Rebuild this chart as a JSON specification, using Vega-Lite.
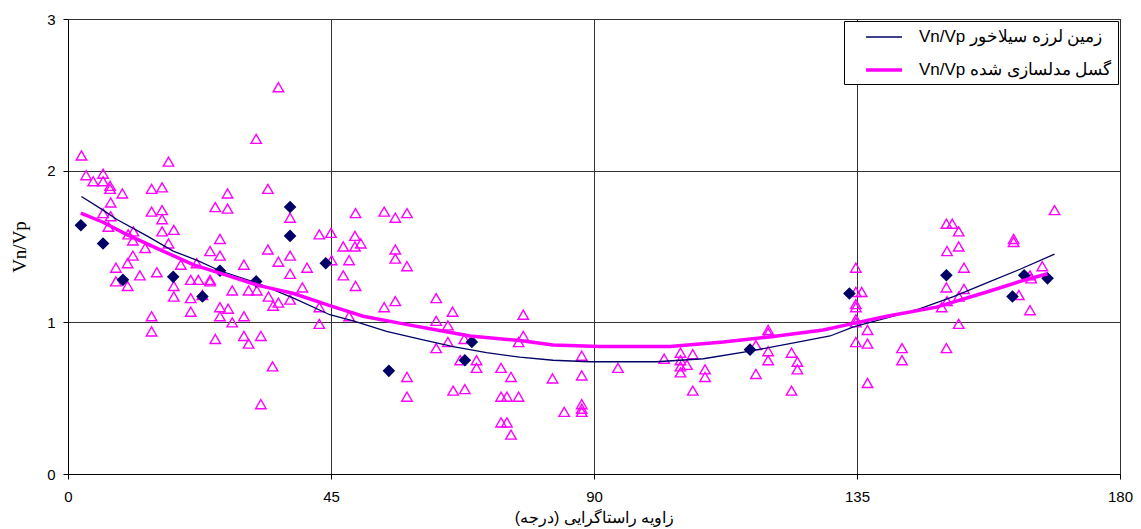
{
  "$schema": "https://vega.github.io/schema/vega-lite/v6.json",
  "width": 1052,
  "height": 455,
  "autosize": {"type": "none"},
  "padding": {"left": 68, "top": 19, "right": 21, "bottom": 55},
  "background": "white",
  "config": {
    "view": {"stroke": "#000", "strokeWidth": 1},
    "font": "Liberation Sans"
  },
  "datasets": {
    "tri": [
      {"a":2.3,"v":2.10},{"a":3.1,"v":1.97},{"a":4.3,"v":1.93},{"a":6.0,"v":1.98},{"a":6.0,"v":1.93},{"a":7.2,"v":1.90},{"a":7.2,"v":1.88},{"a":9.3,"v":1.85},{"a":7.3,"v":1.79},{"a":6.0,"v":1.72},{"a":7.3,"v":1.70},{"a":6.9,"v":1.63},{"a":10.3,"v":1.58},{"a":11.2,"v":1.60},{"a":11.1,"v":1.54},{"a":13.2,"v":1.49},{"a":11.1,"v":1.44},{"a":10.2,"v":1.39},{"a":8.2,"v":1.36},{"a":8.2,"v":1.27},{"a":10.2,"v":1.24},{"a":12.3,"v":1.31},{"a":14.3,"v":1.88},{"a":16.1,"v":1.89},{"a":17.2,"v":2.06},{"a":14.3,"v":1.73},{"a":16.1,"v":1.74},{"a":16.1,"v":1.68},{"a":16.1,"v":1.60},{"a":18.1,"v":1.61},{"a":17.2,"v":1.52},{"a":19.3,"v":1.38},{"a":15.2,"v":1.33},{"a":14.3,"v":1.04},{"a":14.3,"v":0.94},{"a":18.1,"v":1.24},{"a":18.1,"v":1.17},{"a":21.0,"v":1.28},{"a":22.3,"v":1.28},{"a":22.0,"v":1.39},{"a":21.0,"v":1.16},{"a":21.0,"v":1.07},{"a":23.0,"v":1.18},{"a":24.3,"v":1.47},{"a":26.0,"v":1.55},{"a":26.0,"v":1.44},{"a":25.2,"v":1.76},{"a":27.3,"v":1.75},{"a":27.3,"v":1.85},{"a":24.3,"v":1.28},{"a":24.3,"v":1.27},{"a":26.0,"v":1.10},{"a":26.0,"v":1.04},{"a":27.4,"v":1.09},{"a":28.1,"v":1.21},{"a":28.1,"v":1.00},{"a":25.2,"v":0.89},{"a":30.1,"v":1.38},{"a":30.1,"v":1.04},{"a":30.9,"v":1.21},{"a":30.1,"v":0.91},{"a":30.9,"v":0.86},{"a":32.3,"v":1.21},{"a":33.0,"v":0.91},{"a":32.2,"v":2.21},{"a":34.2,"v":1.88},{"a":34.2,"v":1.48},{"a":36.0,"v":1.40},{"a":34.3,"v":1.17},{"a":35.1,"v":1.11},{"a":36.0,"v":1.13},{"a":35.0,"v":0.71},{"a":33.0,"v":0.46},{"a":38.0,"v":1.69},{"a":38.0,"v":1.44},{"a":38.0,"v":1.32},{"a":38.0,"v":1.15},{"a":40.1,"v":1.23},{"a":40.9,"v":1.36},{"a":43.0,"v":1.58},{"a":45.0,"v":1.59},{"a":43.0,"v":1.10},{"a":43.0,"v":0.99},{"a":36.0,"v":2.55},{"a":45.1,"v":1.41},
      {"a":49.2,"v":1.72},{"a":54.1,"v":1.73},{"a":56.0,"v":1.69},{"a":58.0,"v":1.72},{"a":49.1,"v":1.57},{"a":47.1,"v":1.50},{"a":49.1,"v":1.50},{"a":50.1,"v":1.52},{"a":48.1,"v":1.41},{"a":47.1,"v":1.31},{"a":49.2,"v":1.24},{"a":56.0,"v":1.48},{"a":56.0,"v":1.42},{"a":58.0,"v":1.37},{"a":54.1,"v":1.10},{"a":56.0,"v":1.14},{"a":48.1,"v":1.04},{"a":63.0,"v":1.16},{"a":63.0,"v":1.01},{"a":65.8,"v":1.07},{"a":65.0,"v":0.98},{"a":63.0,"v":0.83},{"a":65.0,"v":0.87},{"a":67.8,"v":0.89},{"a":67.1,"v":0.75},{"a":69.9,"v":0.75},{"a":69.9,"v":0.70},{"a":58.0,"v":0.64},{"a":58.0,"v":0.51},{"a":65.9,"v":0.55},{"a":67.9,"v":0.56},{"a":74.1,"v":0.70},{"a":75.8,"v":0.64},{"a":74.1,"v":0.51},{"a":75.1,"v":0.51},{"a":77.1,"v":0.51},{"a":74.1,"v":0.34},{"a":75.1,"v":0.34},{"a":75.8,"v":0.26},{"a":77.9,"v":1.05},{"a":77.9,"v":0.91},{"a":77.1,"v":0.87},{"a":82.9,"v":0.63},{"a":84.9,"v":0.41},{"a":87.9,"v":0.78},{"a":87.9,"v":0.65},{"a":87.9,"v":0.46},{"a":87.9,"v":0.43},{"a":87.9,"v":0.41},
      {"a":94.1,"v":0.70},{"a":102.0,"v":0.76},{"a":104.8,"v":0.80},{"a":104.8,"v":0.75},{"a":104.8,"v":0.71},{"a":104.8,"v":0.67},{"a":105.9,"v":0.72},{"a":106.9,"v":0.79},{"a":106.9,"v":0.55},{"a":109.0,"v":0.69},{"a":109.0,"v":0.64},{"a":117.7,"v":0.85},{"a":117.7,"v":0.66},{"a":119.8,"v":0.95},{"a":119.8,"v":0.93},{"a":119.8,"v":0.81},{"a":119.8,"v":0.75},{"a":123.8,"v":0.80},{"a":124.8,"v":0.74},{"a":124.8,"v":0.69},{"a":123.8,"v":0.55},
      {"a":134.8,"v":1.36},{"a":135.8,"v":1.20},{"a":134.8,"v":1.20},{"a":134.8,"v":1.12},{"a":134.8,"v":1.10},{"a":134.8,"v":1.02},{"a":134.8,"v":1.00},{"a":136.8,"v":0.95},{"a":134.8,"v":0.87},{"a":136.8,"v":0.86},{"a":136.8,"v":0.60},{"a":142.7,"v":0.83},{"a":142.7,"v":0.75},{"a":150.3,"v":1.65},{"a":151.3,"v":1.65},{"a":152.4,"v":1.60},{"a":150.4,"v":1.47},{"a":152.4,"v":1.50},{"a":153.3,"v":1.36},{"a":150.3,"v":1.23},{"a":153.3,"v":1.22},{"a":152.4,"v":1.17},{"a":150.4,"v":1.14},{"a":149.5,"v":1.10},{"a":152.4,"v":0.99},{"a":150.3,"v":0.83},{"a":161.8,"v":1.55},{"a":161.8,"v":1.53},{"a":164.6,"v":1.31},{"a":164.8,"v":1.29},{"a":166.7,"v":1.37},{"a":162.7,"v":1.18},{"a":164.6,"v":1.08},{"a":168.8,"v":1.74}
    ],
    "dia": [
      {"a":2.2,"v":1.64},{"a":6.0,"v":1.52},{"a":9.4,"v":1.28},{"a":18.0,"v":1.30},{"a":23.0,"v":1.17},{"a":26.0,"v":1.34},{"a":32.2,"v":1.27},{"a":38.0,"v":1.76},{"a":38.0,"v":1.57},{"a":44.1,"v":1.39},{"a":54.9,"v":0.68},{"a":69.1,"v":0.87},{"a":67.9,"v":0.75},{"a":116.7,"v":0.82},{"a":133.7,"v":1.19},{"a":150.3,"v":1.31},{"a":161.6,"v":1.17},{"a":163.6,"v":1.31},{"a":167.6,"v":1.29}
    ],
    "fit": [
      {"s":"Vn/Vp زمین لرزه سیلاخور","a":2.3,"v":1.83},{"s":"Vn/Vp زمین لرزه سیلاخور","a":6.0,"v":1.74},{"s":"Vn/Vp زمین لرزه سیلاخور","a":8.3,"v":1.68},{"s":"Vn/Vp زمین لرزه سیلاخور","a":13.5,"v":1.57},{"s":"Vn/Vp زمین لرزه سیلاخور","a":18.0,"v":1.47},{"s":"Vn/Vp زمین لرزه سیلاخور","a":22.0,"v":1.41},{"s":"Vn/Vp زمین لرزه سیلاخور","a":26.0,"v":1.34},{"s":"Vn/Vp زمین لرزه سیلاخور","a":32.3,"v":1.26},{"s":"Vn/Vp زمین لرزه سیلاخور","a":38.6,"v":1.16},{"s":"Vn/Vp زمین لرزه سیلاخور","a":44.8,"v":1.05},{"s":"Vn/Vp زمین لرزه سیلاخور","a":48.8,"v":1.01},{"s":"Vn/Vp زمین لرزه سیلاخور","a":54.5,"v":0.94},{"s":"Vn/Vp زمین لرزه سیلاخور","a":60.2,"v":0.89},{"s":"Vn/Vp زمین لرزه سیلاخور","a":65.9,"v":0.84},{"s":"Vn/Vp زمین لرزه سیلاخور","a":71.6,"v":0.80},{"s":"Vn/Vp زمین لرزه سیلاخور","a":77.3,"v":0.77},{"s":"Vn/Vp زمین لرزه سیلاخور","a":83.0,"v":0.75},{"s":"Vn/Vp زمین لرزه سیلاخور","a":89.3,"v":0.74},{"s":"Vn/Vp زمین لرزه سیلاخور","a":100.7,"v":0.74},{"s":"Vn/Vp زمین لرزه سیلاخور","a":108.7,"v":0.76},{"s":"Vn/Vp زمین لرزه سیلاخور","a":116.7,"v":0.81},{"s":"Vn/Vp زمین لرزه سیلاخور","a":123.5,"v":0.86},{"s":"Vn/Vp زمین لرزه سیلاخور","a":130.4,"v":0.91},{"s":"Vn/Vp زمین لرزه سیلاخور","a":134.4,"v":0.97},{"s":"Vn/Vp زمین لرزه سیلاخور","a":140.1,"v":1.03},{"s":"Vn/Vp زمین لرزه سیلاخور","a":145.8,"v":1.09},{"s":"Vn/Vp زمین لرزه سیلاخور","a":151.5,"v":1.17},{"s":"Vn/Vp زمین لرزه سیلاخور","a":157.2,"v":1.26},{"s":"Vn/Vp زمین لرزه سیلاخور","a":162.9,"v":1.35},{"s":"Vn/Vp زمین لرزه سیلاخور","a":168.8,"v":1.45},
      {"s":"Vn/Vp گسل مدلسازی شده","a":2.2,"v":1.72},{"s":"Vn/Vp گسل مدلسازی شده","a":6.0,"v":1.66},{"s":"Vn/Vp گسل مدلسازی شده","a":10.0,"v":1.58},{"s":"Vn/Vp گسل مدلسازی شده","a":15.7,"v":1.48},{"s":"Vn/Vp گسل مدلسازی شده","a":21.4,"v":1.38},{"s":"Vn/Vp گسل مدلسازی شده","a":27.2,"v":1.31},{"s":"Vn/Vp گسل مدلسازی شده","a":32.9,"v":1.24},{"s":"Vn/Vp گسل مدلسازی شده","a":38.6,"v":1.19},{"s":"Vn/Vp گسل مدلسازی شده","a":44.8,"v":1.11},{"s":"Vn/Vp گسل مدلسازی شده","a":50.5,"v":1.04},{"s":"Vn/Vp گسل مدلسازی شده","a":57.4,"v":0.99},{"s":"Vn/Vp گسل مدلسازی شده","a":63.1,"v":0.95},{"s":"Vn/Vp گسل مدلسازی شده","a":68.8,"v":0.91},{"s":"Vn/Vp گسل مدلسازی شده","a":77.3,"v":0.88},{"s":"Vn/Vp گسل مدلسازی شده","a":83.0,"v":0.85},{"s":"Vn/Vp گسل مدلسازی شده","a":91.0,"v":0.84},{"s":"Vn/Vp گسل مدلسازی شده","a":103.0,"v":0.84},{"s":"Vn/Vp گسل مدلسازی شده","a":112.1,"v":0.87},{"s":"Vn/Vp گسل مدلسازی شده","a":121.3,"v":0.91},{"s":"Vn/Vp گسل مدلسازی شده","a":129.2,"v":0.95},{"s":"Vn/Vp گسل مدلسازی شده","a":134.0,"v":0.99},{"s":"Vn/Vp گسل مدلسازی شده","a":140.1,"v":1.04},{"s":"Vn/Vp گسل مدلسازی شده","a":148.6,"v":1.10},{"s":"Vn/Vp گسل مدلسازی شده","a":157.2,"v":1.20},{"s":"Vn/Vp گسل مدلسازی شده","a":162.9,"v":1.27},{"s":"Vn/Vp گسل مدلسازی شده","a":167.6,"v":1.32}
    ]
  },
  "encoding": {
    "x": {
      "field": "a", "type": "quantitative",
      "scale": {"domain": [0, 180], "nice": false, "zero": false},
      "axis": {
        "values": [0, 45, 90, 135, 180],
        "title": "زاویه راستاگرایی (درجه)‏",
        "grid": true, "gridColor": "#333", "gridWidth": 1, "gridOpacity": 1,
        "domainColor": "#000", "tickColor": "#000", "tickSize": 5,
        "labelFont": "Liberation Sans", "labelFontSize": 15, "labelColor": "#000", "labelPadding": 10,
        "labelFlush": false,
        "titleFont": "Liberation Sans", "titleFontSize": 16, "titleFontWeight": "normal", "titleColor": "#000", "titlePadding": 5
      }
    },
    "y": {
      "field": "v", "type": "quantitative",
      "scale": {"domain": [0, 3], "nice": false},
      "axis": {
        "values": [0, 1, 2, 3],
        "title": "Vn/Vp",
        "grid": true, "gridColor": "#333", "gridWidth": 1, "gridOpacity": 1,
        "domainColor": "#000", "tickColor": "#000", "tickSize": 5,
        "labelFont": "Liberation Sans", "labelFontSize": 15, "labelColor": "#000", "labelPadding": 8,
        "labelFlush": false,
        "titleFont": "Liberation Serif", "titleFontSize": 19, "titleFontWeight": "normal", "titleColor": "#000", "titlePadding": 17
      }
    }
  },
  "layer": [
    {
      "data": {"name": "tri"},
      "mark": {"type": "point", "shape": "triangle-up", "filled": false, "stroke": "#ff00ff", "strokeWidth": 1.4, "size": 110, "opacity": 1}
    },
    {
      "data": {"name": "dia"},
      "mark": {"type": "point", "shape": "diamond", "filled": true, "fill": "#000066", "stroke": "#000066", "strokeWidth": 1.5, "size": 110, "opacity": 1}
    },
    {
      "data": {"name": "fit"},
      "mark": {"type": "line", "interpolate": "linear"},
      "encoding": {
        "color": {
          "field": "s", "type": "nominal",
          "scale": {"domain": ["Vn/Vp زمین لرزه سیلاخور", "Vn/Vp گسل مدلسازی شده"], "range": ["#000066", "#ff00ff"]},
          "legend": {
            "title": null, "orient": "top-right", "offset": 2,
            "strokeColor": "#000", "fillColor": "#fff", "padding": 6,
            "symbolType": "M0.56,0H4.56", "symbolSize": 324,
            "labelFont": "Liberation Sans", "labelFontSize": 17, "labelColor": "#000", "labelOffset": 47, "labelLimit": 400,
            "rowPadding": 14
          }
        },
        "strokeWidth": {
          "field": "s", "type": "nominal",
          "scale": {"type": "ordinal", "domain": ["Vn/Vp زمین لرزه سیلاخور", "Vn/Vp گسل مدلسازی شده"], "range": [1.3, 3.5]},
          "legend": {
            "title": null, "orient": "top-right", "offset": 2,
            "strokeColor": "#000", "fillColor": "#fff", "padding": 6,
            "symbolType": "M0.56,0H4.56", "symbolSize": 324,
            "labelFont": "Liberation Sans", "labelFontSize": 17, "labelColor": "#000", "labelOffset": 47, "labelLimit": 400,
            "rowPadding": 14
          }
        }
      }
    }
  ]
}
